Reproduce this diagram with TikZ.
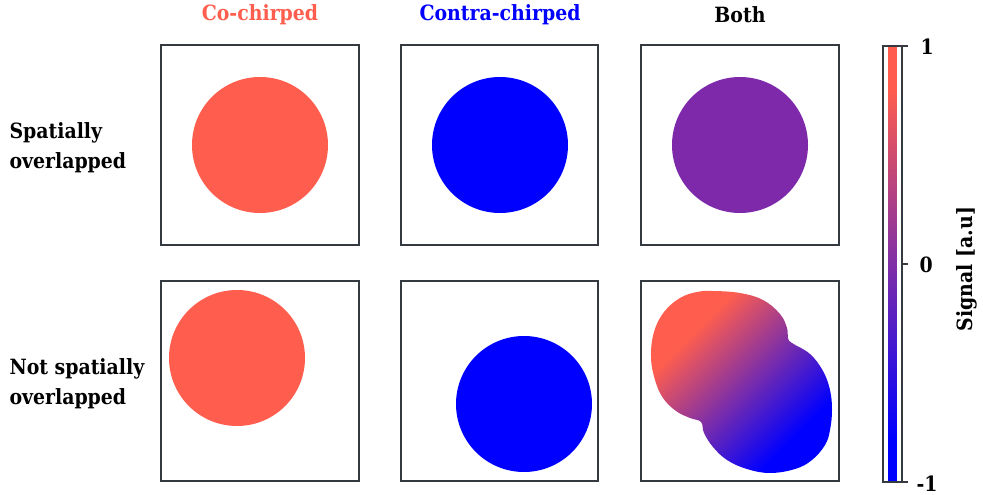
\documentclass[tikz,border=0pt]{standalone}
\usepackage{fontspec}
\setmainfont{DejaVu Serif Condensed}
\definecolor{cored}{RGB}{255,94,78}
\definecolor{coblue}{RGB}{0,0,255}
\definecolor{copurple}{RGB}{126,40,170}
\definecolor{frame}{RGB}{52,58,64}
\pgfdeclareverticalshading{cbar}{20bp}{color(0bp)=(coblue); color(30bp)=(coblue); color(70bp)=(cored); color(100bp)=(cored)}
\pgfdeclareverticalshading{blobsh}{100bp}{color(0bp)=(coblue); color(30bp)=(coblue); color(68bp)=(cored); color(100bp)=(cored)}
\begin{document}
\begin{tikzpicture}[x=1pt,y=-1pt,
  panel/.style={draw=frame,line width=2pt},
  hdr/.style={font=\bfseries\fontsize{21}{24}\selectfont,anchor=center},
  rowlbl/.style={font=\bfseries\fontsize{21}{30}\selectfont,align=left,anchor=west},
  tick/.style={font=\bfseries\fontsize{21}{24}\selectfont,anchor=west}]
\useasboundingbox (0,0) rectangle (983,495);
% headers
\node[hdr,text=cored] (h1) at (260,15) {Co-chirped};
\node[hdr,text=coblue] (h2) at (500,15) {Contra-chirped};
\node[hdr,text=black] (h3) at (740,15) {Both};
% row labels
\node[rowlbl] (r1) at (6,148) {Spatially\\overlapped};
\node[rowlbl] (r2) at (6,384) {Not spatially\\overlapped};
% circles
\fill[cored] (260,145) circle (68);
\fill[coblue] (500,145) circle (68);
\fill[copurple] (740,145) circle (68);
\fill[cored] (237,358) circle (68);
\fill[coblue] (524,404) circle (68);
\begin{scope}
  \clip plot[smooth cycle, tension=0.65] coordinates {
    (713,291) (740,293) (763,300) (780,314) (787,328) (788,338) (792,343)
    (810,354) (823,371) (830,390) (832,410) (830,430) (825,445) (812,460)
    (795,469) (770,473) (747,469) (727,460) (713,447) (704,433) (701,422)
    (690,418) (676,411) (663,398) (655,380) (651,357) (654,332) (664,312)
    (680,298) (697,292)};
  \shade[shading=blobsh,shading angle=45] (645,285) rectangle (838,478);
\end{scope}
% panels
\draw[panel] (161,45) rectangle (359,245);
\draw[panel] (401,45) rectangle (598,245);
\draw[panel] (641,45) rectangle (839,245);
\draw[panel] (161,281) rectangle (359,481);
\draw[panel] (401,281) rectangle (598,481);
\draw[panel] (641,281) rectangle (839,481);
% colorbar
\shade[shading=cbar] (883,46) rectangle (902,482);
\draw[frame,line width=1.5pt] (883,46) rectangle (902,482);
\draw[frame,line width=1.2pt] (902,46) -- (908,46) (902,264) -- (908,264) (902,482) -- (908,482);
\node[tick] (t1) at (917,47) {1};
\node[tick] (t0) at (916,265) {0};
\node[tick] (tm) at (913,484) {-1};
\node[font=\bfseries\fontsize{21}{24}\selectfont,rotate=90] (sig) at (967,269) {Signal [a.u]};
\end{tikzpicture}
\end{document}
